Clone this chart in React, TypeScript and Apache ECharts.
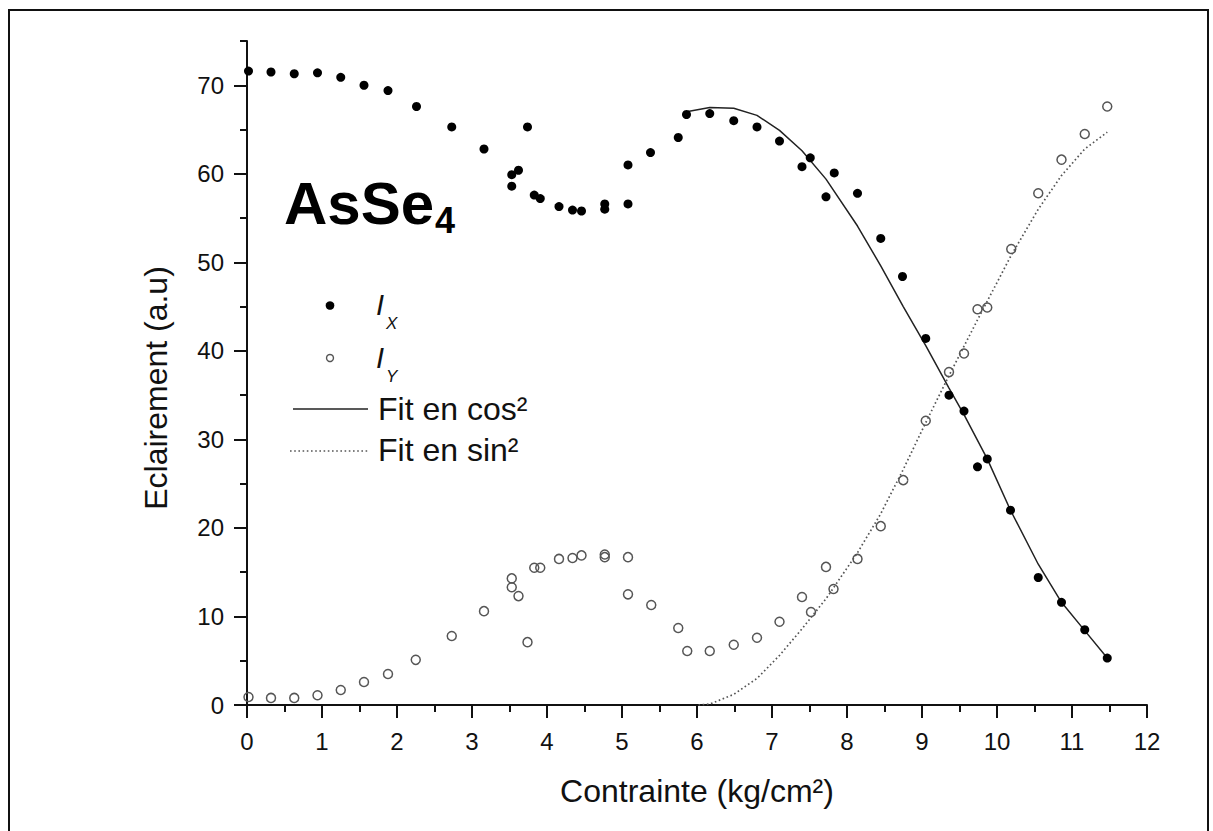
import React, { useEffect, useRef } from "react";
import * as echarts from "echarts";

// ---- Data ----
const ixX = [0.02, 0.32, 0.63, 0.94, 1.25, 1.56, 1.88, 2.26, 2.73, 3.16, 3.53, 3.53, 3.62, 3.74, 3.83, 3.91, 4.16, 4.34, 4.46, 4.77, 4.77, 5.08, 5.08, 5.38, 5.75, 5.86, 6.17, 6.49, 6.8, 7.1, 7.4, 7.51, 7.72, 7.83, 8.14, 8.45, 8.74, 9.05, 9.36, 9.56, 9.74, 9.87, 10.18, 10.55, 10.86, 11.17, 11.47];
const ixY = [71.6, 71.5, 71.3, 71.4, 70.9, 70.0, 69.4, 67.6, 65.3, 62.8, 59.9, 58.6, 60.4, 65.3, 57.6, 57.2, 56.3, 55.9, 55.8, 56.6, 56.0, 56.6, 61.0, 62.4, 64.1, 66.7, 66.8, 66.0, 65.3, 63.7, 60.8, 61.8, 57.4, 60.1, 57.8, 52.7, 48.4, 41.4, 35.0, 33.2, 26.9, 27.8, 22.0, 14.4, 11.6, 8.5, 5.3];

const iyX = [0.02, 0.32, 0.63, 0.94, 1.25, 1.56, 1.88, 2.25, 2.73, 3.16, 3.53, 3.53, 3.62, 3.74, 3.83, 3.91, 4.16, 4.34, 4.46, 4.77, 4.77, 5.08, 5.08, 5.39, 5.75, 5.87, 6.17, 6.49, 6.8, 7.1, 7.4, 7.52, 7.72, 7.82, 8.14, 8.45, 8.75, 9.05, 9.36, 9.56, 9.74, 9.87, 10.19, 10.55, 10.86, 11.17, 11.47];
const iyY = [0.9, 0.8, 0.8, 1.1, 1.7, 2.6, 3.5, 5.1, 7.8, 10.6, 14.3, 13.3, 12.3, 7.1, 15.5, 15.5, 16.5, 16.6, 16.9, 17.0, 16.7, 16.7, 12.5, 11.3, 8.7, 6.1, 6.1, 6.8, 7.6, 9.4, 12.2, 10.5, 15.6, 13.1, 16.5, 20.2, 25.4, 32.1, 37.6, 39.7, 44.7, 44.9, 51.5, 57.8, 61.6, 64.5, 67.6];

const cosFitX = [5.86, 6.17, 6.49, 6.8, 7.1, 7.4, 7.72, 8.14, 8.45, 8.75, 9.05, 9.36, 9.56, 9.87, 10.18, 10.55, 10.86, 11.17, 11.47];
const cosFitY = [67.0, 67.5, 67.4, 66.6, 64.9, 62.6, 59.4, 54.1, 49.6, 45.0, 40.6, 35.8, 32.8, 27.8, 22.0, 15.9, 11.6, 8.4, 5.3];

const sinFitX = [6.02, 6.17, 6.49, 6.8, 7.1, 7.4, 7.72, 8.14, 8.45, 8.75, 9.05, 9.36, 9.74, 10.19, 10.55, 10.86, 11.17, 11.47];
const sinFitY = [0, 0.1, 1.2, 3.0, 5.6, 8.6, 12.0, 17.2, 21.6, 26.6, 31.9, 37.2, 43.5, 50.8, 56.0, 59.8, 62.8, 64.7];

const xTicks = [0, 1, 2, 3, 4, 5, 6, 7, 8, 9, 10, 11, 12];
const yMajorTicks = [0, 10, 20, 30, 40, 50, 60, 70];
const yMinorTicks = [5, 15, 25, 35, 45, 55, 65, 75];

const seriesNames = ["I_X", "I_Y", "Fit en cos²", "Fit en sin²"];
const xTitle = "Contrainte (kg/cm²)";
const yTitle = "Eclairement (a.u)";

const FONT = "'Liberation Sans', Arial, Helvetica, sans-serif";
const INK = "#111";

const pairs = (xs: number[], ys: number[]) => xs.map((x, i) => [x, ys[i]]);

export default function App() {
  const ref = useRef<HTMLDivElement>(null);

  useEffect(() => {
    if (!ref.current) return;
    const chart = echarts.init(ref.current, undefined, { renderer: "svg" });

    const axisLine = { show: true, lineStyle: { color: INK, width: 2 } };
    const tickStyle = { color: INK, width: 2 };

    const option: any = {
      animation: false,
      backgroundColor: "#fff",
      grid: {
        left: 247,
        right: 66,
        top: 41,
        bottom: 126,
        containLabel: false,
        outerBoundsMode: "none",
      },
      xAxis: {
        type: "value",
        min: xTicks[0],
        max: xTicks[xTicks.length - 1],
        interval: 1,
        axisLine,
        axisTick: { show: true, length: 13, lineStyle: tickStyle },
        minorTick: { show: true, splitNumber: 2, length: 7, lineStyle: tickStyle },
        splitLine: { show: false },
        minorSplitLine: { show: false },
        axisLabel: { fontSize: 24, color: INK, margin: 24, fontFamily: FONT },
        name: xTitle,
        nameLocation: "middle",
        nameGap: 70,
        nameTextStyle: { fontSize: 32, color: INK, fontFamily: FONT },
      },
      yAxis: [
        {
          type: "value",
          min: 0,
          max: 75,
          interval: 5,
          position: "left",
          axisLine,
          axisTick: { show: true, length: 13, lineStyle: tickStyle, customValues: yMajorTicks },
          axisLabel: {
            fontSize: 24,
            color: INK,
            margin: 23,
            fontFamily: FONT,
            customValues: yMajorTicks,
          },
          splitLine: { show: false },
        },
        {
          type: "value",
          min: 0,
          max: 75,
          interval: 5,
          position: "left",
          axisLine: { show: false },
          axisTick: { show: true, length: 7, lineStyle: tickStyle, customValues: yMinorTicks },
          axisLabel: { show: false },
          splitLine: { show: false },
        },
      ],
      series: [
        {
          name: seriesNames[2],
          type: "line",
          data: pairs(cosFitX, cosFitY),
          showSymbol: false,
          symbol: "none",
          lineStyle: { color: "#222", width: 1.5 },
          z: 2,
        },
        {
          name: seriesNames[3],
          type: "line",
          data: pairs(sinFitX, sinFitY),
          showSymbol: false,
          symbol: "none",
          lineStyle: { color: "#555", width: 1.7, type: [1.6, 2.6] },
          z: 2,
        },
        {
          name: seriesNames[1],
          type: "scatter",
          data: pairs(iyX, iyY),
          symbol: "circle",
          symbolSize: 9,
          itemStyle: { color: "rgba(255,255,255,0)", borderColor: "#555", borderWidth: 1.5, opacity: 1 },
          z: 3,
        },
        {
          name: seriesNames[0],
          type: "scatter",
          data: pairs(ixX, ixY),
          symbol: "circle",
          symbolSize: 9,
          itemStyle: { color: "#000", opacity: 1 },
          z: 4,
        },
      ],
      graphic: [
        {
          type: "rect",
          silent: true,
          shape: { x: 9, y: 10, width: 1199, height: 840 },
          style: { fill: "transparent", stroke: INK, lineWidth: 2 },
        },
        // Title AsSe4
        {
          type: "text",
          x: 284,
          y: 203.5,
          style: { text: "AsSe", fontSize: 60, fontWeight: "bold", fontFamily: FONT, fill: "#000", align: "left", verticalAlign: "middle" },
        },
        {
          type: "text",
          x: 435,
          y: 220,
          style: { text: "4", fontSize: 36, fontWeight: "bold", fontFamily: FONT, fill: "#000", align: "left", verticalAlign: "middle" },
        },
        // Legend
        { type: "circle", shape: { cx: 330, cy: 305.5, r: 4.3 }, style: { fill: "#000" } },
        { type: "text", x: 376, y: 305, style: { text: "I", fontSize: 29, fontStyle: "italic", fontFamily: FONT, fill: INK, align: "left", verticalAlign: "middle" } },
        { type: "text", x: 386, y: 323.5, style: { text: "X", fontSize: 17, fontStyle: "italic", fontFamily: FONT, fill: INK, align: "left", verticalAlign: "middle" } },
        { type: "circle", shape: { cx: 330, cy: 358, r: 3.5 }, style: { fill: "#fff", stroke: "#555", lineWidth: 1.4 } },
        { type: "text", x: 376, y: 357.5, style: { text: "I", fontSize: 29, fontStyle: "italic", fontFamily: FONT, fill: INK, align: "left", verticalAlign: "middle" } },
        { type: "text", x: 386, y: 376, style: { text: "Y", fontSize: 17, fontStyle: "italic", fontFamily: FONT, fill: INK, align: "left", verticalAlign: "middle" } },
        { type: "line", shape: { x1: 293, y1: 409, x2: 368, y2: 409 }, style: { stroke: "#222", lineWidth: 1.5 } },
        { type: "text", x: 378, y: 409, style: { text: seriesNames[2], fontSize: 32, fontFamily: FONT, fill: INK, align: "left", verticalAlign: "middle" } },
        { type: "line", shape: { x1: 290, y1: 451, x2: 368, y2: 451 }, style: { stroke: "#555", lineWidth: 1.6, lineDash: [1.6, 2.6] } },
        { type: "text", x: 378, y: 450, style: { text: seriesNames[3], fontSize: 32, fontFamily: FONT, fill: INK, align: "left", verticalAlign: "middle" } },
        // Y axis title
        {
          type: "text",
          x: 156,
          y: 388,
          rotation: Math.PI / 2,
          style: { text: yTitle, fontSize: 32, fontFamily: FONT, fill: INK, align: "center", verticalAlign: "middle" },
        },
      ],
    };

    chart.setOption(option);
    return () => chart.dispose();
  }, []);

  return (
    <div
      ref={ref}
      style={{ position: "fixed", left: 0, top: 0, width: 1213, height: 831, background: "#fff" }}
    />
  );
}
